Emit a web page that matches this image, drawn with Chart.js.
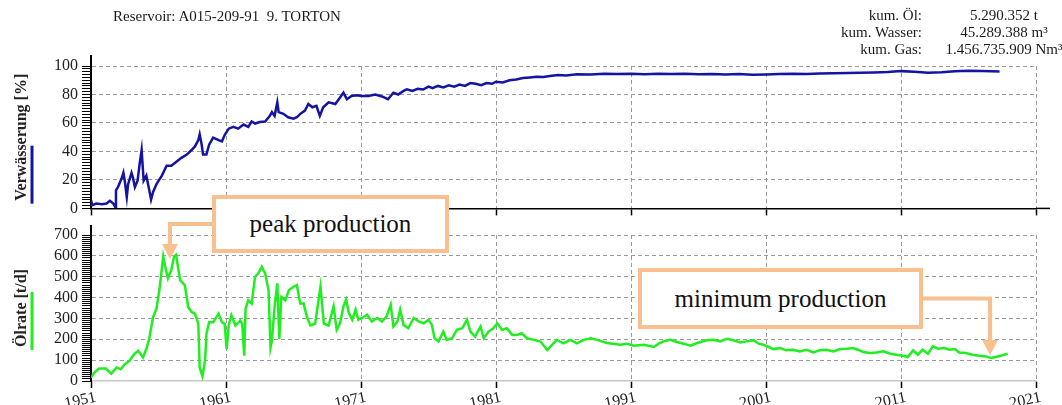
<!DOCTYPE html>
<html><head><meta charset="utf-8">
<script src="https://cdn.jsdelivr.net/npm/chart.js@4.4.1/dist/chart.umd.min.js"></script>
<style>
html,body{margin:0;padding:0;background:#fff;}
#wrap{position:relative;width:1062px;height:405px;overflow:hidden;font-family:"Liberation Serif","Times New Roman",serif;background:#fff;}
canvas{position:absolute;left:0;}
.txt{position:absolute;white-space:pre;color:#1a1a1a;}
.ann{position:absolute;box-sizing:border-box;background:#fff;border:4px solid #F8BF8F;color:#111;font-size:25px;display:flex;align-items:center;justify-content:center;z-index:5;}
</style></head>
<body>
<div id="wrap">
  <canvas id="cTop" width="1062" height="222" style="top:0"></canvas>
  <canvas id="cBot" width="1062" height="210" style="top:195px"></canvas>
</div>
<script>
// ---------------- data ----------------
const waterYears = [1951.0,1951.1,1951.4,1951.8,1952.15,1952.4,1952.65,1952.8,1952.85,1953.0,1953.3,1953.4,1953.5,1953.65,1953.75,1954.0,1954.1,1954.25,1954.45,1954.6,1954.75,1954.9,1955.1,1955.3,1955.45,1955.6,1955.85,1956.25,1956.6,1956.95,1957.35,1957.7,1958.1,1958.45,1958.7,1958.95,1959.05,1959.2,1959.3,1959.55,1959.75,1960.05,1960.45,1960.7,1960.9,1961.2,1961.55,1961.9,1962.3,1962.65,1962.9,1963.15,1963.5,1963.9,1964.25,1964.4,1964.6,1964.8,1964.9,1965.25,1965.6,1966.0,1966.25,1966.5,1966.85,1967.1,1967.4,1967.7,1967.95,1968.2,1968.6,1969.1,1969.45,1969.7,1969.95,1970.3,1970.7,1971.05,1971.55,1972.05,1972.55,1973.0,1973.4,1973.75,1974.15,1974.4,1974.8,1975.2,1975.6,1976.0,1976.3,1976.7,1977.1,1977.5,1977.9,1978.3,1978.7,1979.1,1979.5,1979.9,1980.3,1980.7,1981.0,1981.5,1982.0,1982.5,1983.0,1983.5,1984.0,1984.5,1985.0,1985.6,1986.2,1987.0,1988.0,1989.0,1990.0,1991.0,1992.0,1993.0,1994.0,1995.0,1996.0,1997.0,1998.0,1999.0,2000.0,2001.0,2002.0,2003.0,2004.0,2005.0,2006.0,2007.0,2008.0,2009.0,2010.0,2011.0,2012.0,2013.0,2014.0,2015.0,2016.0,2017.0,2018.3];
const waterCut = [5.7,2.3,3.4,3.0,3.4,5.3,3.4,1.0,12.6,15,21.8,25,19.5,8,17,25,21.8,15,19.5,31,41,19.5,23,13.7,6.2,11.5,17,23,30,30,33,35.5,37.8,41,43.5,48,52,44.7,37.8,37.8,44.7,49.7,48,47,51.5,56,57.3,56,58.9,57.3,61,59.6,60.7,61,65,67.6,65,74.5,67.6,66.4,64,63,64,66.4,68.7,73.3,71,72,65,71,74.5,73.3,77.9,81.3,76.7,79,79.5,79,79,80,78.6,76.7,81.3,80,82.5,83.6,82.5,84,83.5,85.5,84.5,86,85,86.5,85.5,87,86,88,87.5,86.5,88,87.5,89,88.5,90,90.5,91.5,92,92.5,92.2,93,93.6,93.4,94.2,94,94.5,94.3,94.6,94.2,94.5,94.3,94.6,94.2,94.4,94.1,94.3,93.8,94.0,94.3,94.5,94.4,94.7,94.9,95.1,95.3,95.5,95.8,96.4,96.0,95.2,95.6,96.3,96.6,96.5,96.2];

const oilYears = [1951.0,1951.25,1951.6,1952.1,1952.5,1952.9,1953.2,1953.5,1953.85,1954.2,1954.5,1954.85,1955.1,1955.3,1955.6,1955.85,1956.1,1956.35,1956.5,1956.7,1956.95,1957.15,1957.3,1957.6,1957.95,1958.2,1958.45,1958.7,1958.95,1959.05,1959.25,1959.45,1959.55,1959.75,1960.05,1960.45,1960.7,1960.9,1961.05,1961.2,1961.4,1961.7,1962.05,1962.2,1962.35,1962.45,1962.65,1962.9,1963.15,1963.4,1963.65,1963.9,1964.15,1964.3,1964.4,1964.6,1964.8,1964.95,1965.1,1965.4,1965.65,1966.0,1966.25,1966.5,1966.75,1967.0,1967.25,1967.6,1968.0,1968.25,1968.6,1968.97,1969.2,1969.45,1969.7,1969.9,1970.1,1970.35,1970.6,1970.8,1971.1,1971.45,1971.8,1972.2,1972.55,1972.9,1973.2,1973.4,1973.7,1973.9,1974.15,1974.5,1974.9,1975.3,1975.65,1976.0,1976.25,1976.45,1976.75,1977.1,1977.35,1977.75,1978.1,1978.5,1978.85,1979.1,1979.45,1979.85,1980.1,1980.45,1980.8,1981.1,1981.45,1981.8,1982.2,1982.55,1982.9,1983.3,1983.8,1984.3,1984.8,1985.15,1985.5,1986.0,1986.5,1987.0,1987.5,1988.0,1988.5,1989.2,1989.7,1990.2,1990.7,1991.2,1991.95,1992.7,1993.05,1993.4,1993.9,1994.4,1994.9,1995.4,1995.9,1996.6,1997.1,1997.6,1998.1,1998.6,1999.1,1999.6,2000.1,2000.45,2000.8,2001.2,2001.55,2002.05,2002.5,2003.0,2003.5,2004.0,2004.5,2005.0,2005.5,2006.0,2006.5,2007.0,2007.45,2007.8,2008.2,2008.7,2009.2,2009.7,2010.2,2010.65,2011.15,2011.5,2011.9,2012.25,2012.6,2013.0,2013.35,2013.75,2014.2,2014.6,2015.0,2015.3,2015.8,2016.3,2016.8,2017.3,2017.65,2018.0,2018.4,2018.9];
const oilRate = [16,40,60,60,35,65,56,80,97,129,145,113,153,200,306,347,452,597,548,492,532,597,605,484,460,355,331,323,274,65,24,97,226,282,282,323,282,274,153,266,315,266,290,274,121,347,387,371,500,516,548,516,435,161,194,355,468,202,403,387,435,452,460,371,371,306,266,274,452,274,266,358,245,277,358,390,326,294,342,294,302,318,285,302,285,310,366,261,285,342,269,253,302,285,277,294,269,205,189,237,197,205,245,253,294,237,213,261,205,237,253,277,245,253,221,221,229,205,197,189,148,173,197,181,197,181,197,205,197,182,179,174,179,169,174,163,179,190,198,187,179,169,182,195,198,190,202,195,185,190,195,179,174,163,153,158,147,150,142,150,137,147,150,142,153,155,158,150,139,134,137,142,131,126,121,115,147,126,150,131,166,155,158,150,153,137,134,126,121,118,110,115,121,131];

const decadeTicks = [1951,1961,1971,1981,1991,2001,2011,2021];
const waterCutTicks = [0,20,40,60,80,100];
const oilRateTicks = [0,100,200,300,400,500,600,700];

// ---------------- texts ----------------
const headerTitle = 'Reservoir: A015-209-91  9. TORTON';
const cumLabels = ['kum. Öl:','kum. Wasser:','kum. Gas:'];
const cumValues = ['5.290.352 t','45.289.388 m³','1.456.735.909 Nm³'];

// ---------------- layout / style ----------------
const FONT = '"Liberation Serif","Times New Roman",serif';
const PLOT_LEFT = 91, PLOT_RIGHT = 1036, W = 1062;
const BOT_TOP = 195;
const ANN_COLOR = '#F8BF8F';
const GRID = '#9a9a9a';
const CLEAR = 'rgba(0,0,0,0)';
const annotations = [
  {text:'peak production', box:{left:212,top:195,width:237,height:58}, tip:{x:1956.85,y:585}, side:'left'},
  {text:'minimum production', box:{left:638,top:268,width:285,height:61}, tip:{x:2017.6,y:125}, side:'right'}
];

const wrap = document.getElementById('wrap');
function addText(t, css){ const d=document.createElement('div'); d.className='txt'; d.textContent=t; Object.assign(d.style, css); wrap.appendChild(d); return d; }
addText(headerTitle, {left:'113px', top:'7px', fontSize:'15px', lineHeight:'18px'});
cumLabels.forEach((t,i)=>{
  addText(t, {right:(W-922)+'px', top:(7+17*i)+'px', fontSize:'15px', lineHeight:'17px'});
});
cumValues.forEach((t,i)=>{
  addText(t, {left:'924px', width:'160px', textAlign:'center', top:(7+17*i)+'px', fontSize:'15px', lineHeight:'17px'});
});
annotations.forEach(a=>{
  const d=document.createElement('div'); d.className='ann'; d.textContent=a.text;
  Object.assign(d.style,{left:a.box.left+'px',top:a.box.top+'px',width:a.box.width+'px',height:a.box.height+'px'});
  wrap.appendChild(d);
});

const decor = {
  id:'decor',
  afterDraw(chart, args, opts){
    const {ctx, chartArea:ca} = chart;
    const ys = chart.scales.y, xs = chart.scales.x;
    ctx.save();
    ctx.strokeStyle = '#000'; ctx.lineWidth = 2;
    ctx.beginPath(); ctx.moveTo(ca.left, ca.top - opts.axisExtend); ctx.lineTo(ca.left, ca.top); ctx.stroke();
    if (opts.xExtend){
      ctx.lineWidth = 1.5; ctx.beginPath(); ctx.moveTo(ca.right, ca.bottom); ctx.lineTo(ca.right + opts.xExtend, ca.bottom); ctx.stroke();
    }
    // coloured series swatch beside the axis title
    ctx.font = 'bold 16px ' + FONT;
    const w = ctx.measureText(opts.title).width;
    const yb = (ca.top + ca.bottom)/2 + w/2 + 3;
    ctx.strokeStyle = chart.data.datasets[0].borderColor; ctx.lineWidth = 3;
    ctx.beginPath(); ctx.moveTo(32, yb - 58); ctx.lineTo(32, yb); ctx.stroke();
    // annotation arrows
    (opts.arrows || []).forEach(a=>{
      const tx = xs.getPixelForValue(a.tip.x), ty = ys.getPixelForValue(a.tip.y);
      const b = a.box;
      const sy = b.top + b.height/2 - opts.canvasTop;
      const sx = a.side === 'left' ? b.left : b.left + b.width;
      ctx.strokeStyle = ANN_COLOR; ctx.fillStyle = ANN_COLOR; ctx.lineWidth = 4; ctx.lineJoin = 'miter';
      ctx.beginPath(); ctx.moveTo(sx, sy); ctx.lineTo(tx, sy); ctx.lineTo(tx, ty - 13); ctx.stroke();
      ctx.beginPath(); ctx.moveTo(tx - 8, ty - 15); ctx.lineTo(tx + 8, ty - 15); ctx.lineTo(tx, ty); ctx.closePath(); ctx.fill();
    });
    ctx.restore();
  }
};

function xScale(showLabels, borderColor, borderWidth, height){
  return {
    type:'linear', min:decadeTicks[0], max:decadeTicks[decadeTicks.length-1],
    afterBuildTicks: s => { s.ticks = decadeTicks.map(v=>({value:v})); },
    afterFit: s => { s.height = height; },
    grid:{ color: c => (c.tick && c.tick.value === decadeTicks[0]) ? CLEAR : GRID, lineWidth:1,
           tickColor:'#000', tickLength:7, tickWidth:1.5 },
    border:{ color:borderColor, width:borderWidth, dash:[4,3] },
    ticks:{ display:showLabels, autoSkip:false, maxRotation:12, minRotation:12, padding:0, labelOffset:5,
            color:'#222', font:{family:FONT, size:16}, callback: v => String(v) }
  };
}
function yScale(ticksArr, minorStep, title){
  return {
    type:'linear', min:ticksArr[0], max:ticksArr[ticksArr.length-1],
    ticks:{ stepSize:minorStep, autoSkip:false, padding:4, color:'#222', font:{family:FONT, size:16},
            callback: v => (ticksArr.includes(v) ? String(v) : '') },
    grid:{ lineWidth:1,
           color: c => (c.tick && ticksArr.includes(c.tick.value) && c.tick.value > ticksArr[0]) ? GRID : CLEAR,
           tickLength:9, tickColor:'#000', tickWidth:1 },
    border:{ color:'#000', width:2, dash:[4,3] },
    title:{ display:true, text:title, color:'#222', font:{family:FONT, size:16, weight:'bold'}, padding:{top:12, bottom:0} },
    afterFit: s => { s.width = PLOT_LEFT; }
  };
}
function pts(xs, ys){ return xs.map((x,i)=>({x, y:ys[i]})); }

new Chart(document.getElementById('cTop'), {
  type:'line',
  data:{ datasets:[{ data:pts(waterYears, waterCut), borderColor:'#1414a0', borderWidth:2.5, pointRadius:0, tension:0 }] },
  options:{
    responsive:false, animation:false, devicePixelRatio:1,
    layout:{ padding:{ left:0, right:W-PLOT_RIGHT, top:66, bottom:0 } },
    plugins:{ legend:{display:false}, tooltip:{enabled:false},
      decor:{ axisExtend:11, xExtend:14, title:'Verwässerung [%]', canvasTop:0 } },
    scales:{ x:xScale(false, '#000', 1.5, 10), y:yScale(waterCutTicks, 2, 'Verwässerung [%]') }
  },
  plugins:[decor]
});

new Chart(document.getElementById('cBot'), {
  type:'line',
  data:{ datasets:[{ data:pts(oilYears, oilRate), borderColor:'#1fef1f', borderWidth:2.5, pointRadius:0, tension:0 }] },
  options:{
    responsive:false, animation:false, devicePixelRatio:1,
    layout:{ padding:{ left:0, right:W-PLOT_RIGHT, top:235-BOT_TOP, bottom:0 } },
    plugins:{ legend:{display:false}, tooltip:{enabled:false},
      decor:{ axisExtend:10, xExtend:0, title:'Ölrate [t/d]', canvasTop:BOT_TOP, arrows:annotations } },
    scales:{ x:xScale(true, '#c8c8c8', 1.5, 405-381), y:yScale(oilRateTicks, 10, 'Ölrate [t/d]') }
  },
  plugins:[decor]
});
</script>
</body></html>
